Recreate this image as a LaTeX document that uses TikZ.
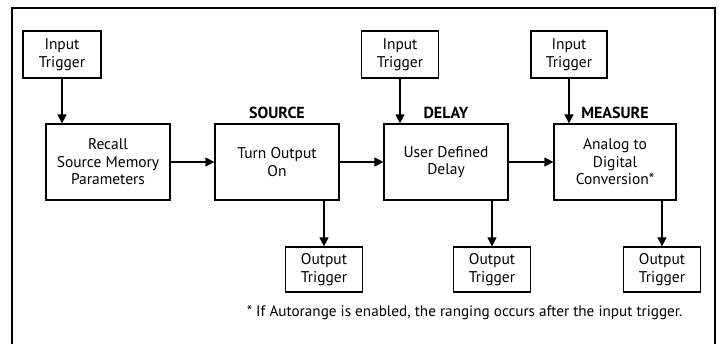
\documentclass[tikz,border=0pt]{standalone}
\usepackage{fontspec}
\setmainfont{PT Sans}
\usetikzlibrary{arrows.meta}
\begin{document}
\begin{tikzpicture}[x=1pt,y=-1pt,
  box/.style={draw,line width=1.2pt,align=center,inner sep=0pt,font=\fontsize{15.5}{17.5}\selectfont},
  small/.style={box,minimum width=78pt,minimum height=47pt},
  big/.style={box,minimum width=124pt,minimum height=76pt},
  lbl/.style={font=\bfseries\fontsize{16}{18}\selectfont},
  arr/.style={line width=1.2pt,-{Triangle[length=9pt,width=9pt]}}]
\useasboundingbox (0,0) rectangle (719,344);
\clip (0,0) rectangle (719,344);
\draw[line width=2.5pt] (12,360) -- (12,8) -- (715,8) -- (715,360);
\node[small] (it1) at (62,54.5) {Input\\Trigger};
\node[small,minimum width=77pt] (it2) at (400,54.5) {Input\\Trigger};
\node[small,minimum width=76pt] (it3) at (569,54.5) {Input\\Trigger};
\node[big] (recall) at (108,162) {Recall\\Source Memory\\Parameters};
\node[big] (turn) at (277,162) {Turn Output\\On};
\node[big] (delay) at (446,162) {User Defined\\Delay};
\node[big,minimum width=122pt] (meas) at (615,162) {Analog to\\Digital\\Conversion*};
\node[small,minimum width=77pt,minimum height=45pt] (ot1) at (324,269.5) {Output\\Trigger};
\node[small,minimum width=77pt,minimum height=45pt] (ot2) at (492,269.5) {Output\\Trigger};
\node[small,minimum width=77pt,minimum height=45pt] (ot3) at (662,269.5) {Output\\Trigger};
\node[lbl] (lsrc) at (277,113) {SOURCE};
\node[lbl] (ldel) at (446,113) {DELAY};
\node[lbl] (lmeas) at (615,113) {MEASURE};
\node[anchor=east,font=\fontsize{15.2}{17}\selectfont] (note) at (686,313) {* If Autorange is enabled, the ranging occurs after the input trigger.};
\draw[arr] (it1.south) -- (it1.south |- recall.north);
\draw[arr] (it2.south) -- (it2.south |- delay.north);
\draw[arr] (it3.south) -- (it3.south |- meas.north);
\draw[arr] (recall) -- (turn);
\draw[arr] (turn) -- (delay);
\draw[arr] (delay) -- (meas);
\draw[arr] (ot1.north |- turn.south) -- (ot1.north);
\draw[arr] (ot2.north |- delay.south) -- (ot2.north);
\draw[arr] (ot3.north |- meas.south) -- (ot3.north);
\end{tikzpicture}
\end{document}
